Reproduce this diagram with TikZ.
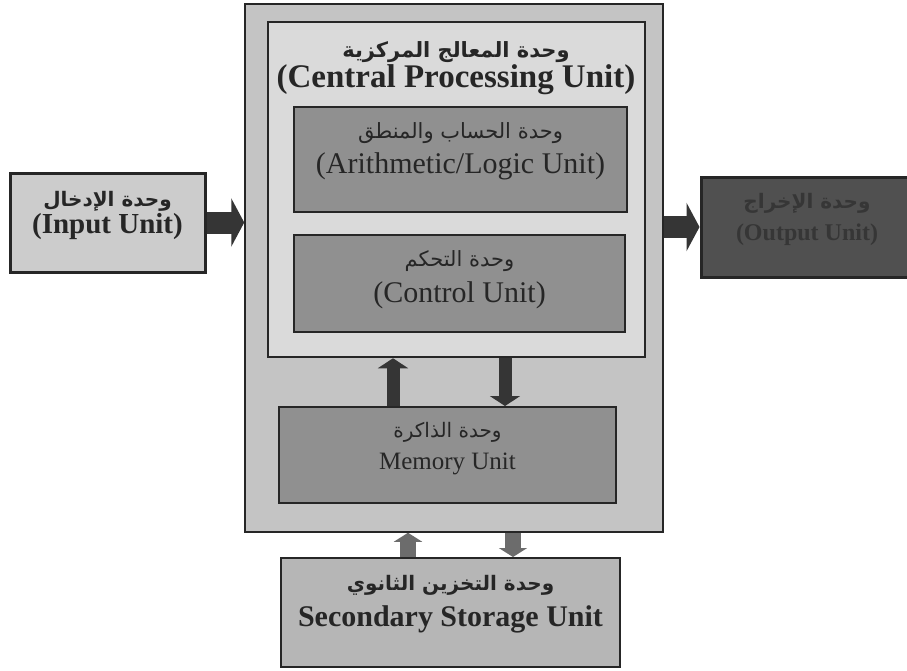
\documentclass[tikz,border=0pt]{standalone}
\usepackage{fontspec}
\setmainfont{Liberation Serif}
\newfontfamily\arabicfont[Script=Arabic]{DejaVu Sans}
\TeXXeTstate=1
\usetikzlibrary{arrows.meta}
\definecolor{ink}{HTML}{262626}
\definecolor{cpuFill}{HTML}{C4C4C4}
\definecolor{areaFill}{HTML}{DADADA}
\definecolor{partFill}{HTML}{909090}
\definecolor{inputFill}{HTML}{CCCCCC}
\definecolor{outputFill}{HTML}{505050}
\definecolor{outputText}{HTML}{363636}
\definecolor{storeFill}{HTML}{B6B6B6}
\definecolor{shaft}{HTML}{353535}
\definecolor{shaftLight}{HTML}{6C6C6C}
\newcommand{\arsize}[1]{\arabicfont\fontsize{#1}{#1}\selectfont}
\tikzset{
  x=1pt, y=-1pt,
  unit/.style={draw=ink, line width=2pt, fill=#1, align=center, inner sep=0pt, text=ink, text depth=21pt},
  flow/.style={line width=22pt, draw=shaft, -{Triangle[length=13pt, width=48pt]}},
  link/.style={line width=13pt, draw=shaft, -{Triangle[length=10pt, width=30pt]}},
  store/.style={line width=16pt, draw=shaftLight, -{Triangle[length=9pt, width=28pt]}},
}

\begin{document}
\begin{tikzpicture}
  \useasboundingbox[fill=white] (0,0) rectangle (907,670);

  % ---------------------------------------------------------------- central unit
  \node[unit=cpuFill, line width=1.5pt, minimum width=418pt, minimum height=528pt] (cpu) at (454, 268) {};
  \node[unit=areaFill, line width=2.5pt, minimum width=377pt, minimum height=335pt] (area) at (456.5, 189.5) {};
  \node[align=center, text=ink, font=\bfseries\fontsize{33}{30}\selectfont] (cpuTitle) at (456, 68)
    {{\arsize{21}\beginR وحدة المعالج المركزية\endR}\\ (Central Processing Unit)};

  \node[unit=partFill, text depth=22pt, minimum width=333pt, minimum height=105pt, font=\fontsize{30}{35}\selectfont] (alu) at (460.5, 159.5)
    {{\arsize{21}\beginR وحدة الحساب والمنطق\endR}\\ (Arithmetic/Logic Unit)};
  \node[unit=partFill, text depth=14pt, minimum width=331pt, minimum height=97pt, font=\fontsize{30}{36}\selectfont] (control) at (459.5, 283.5)
    {{\arsize{21}\beginR وحدة التحكم\endR}\\ (Control Unit)};
  \node[unit=partFill, text depth=18pt, minimum width=337pt, minimum height=96pt, font=\fontsize{25}{32}\selectfont] (memory) at (447.5, 455)
    {{\arsize{20}\beginR وحدة الذاكرة\endR}\\ Memory Unit};

  \coordinate (memUp) at ([xshift=-54.5pt]memory.north);
  \coordinate (memDown) at ([xshift=57.5pt]memory.north);
  \draw[link] (memUp) -- (memUp |- area.south);
  \draw[link] (memDown |- area.south) -- (memDown);

  % ---------------------------------------------------------------- input / output
  \node[unit=inputFill, line width=3pt, minimum width=195pt, minimum height=99pt, font=\bfseries\fontsize{29}{27}\selectfont] (input) at (107.5, 222.5)
    {{\arsize{20}\beginR وحدة الإدخال\endR}\\ (Input Unit)};
  \draw[flow] (input.east) -- (input.east -| cpu.west);

  \node[unit=outputFill, line width=3pt, minimum width=212pt, minimum height=100pt, text=outputText, font=\bfseries\fontsize{24}{32}\selectfont] (output) at (807, 227)
    {{\arsize{20}\beginR وحدة الإخراج\endR}\\ (Output Unit)};
  \draw[flow] (cpu.east |- output.west) -- (output.west);

  % ---------------------------------------------------------------- storage
  \node[unit=storeFill, text depth=24pt, minimum width=339pt, minimum height=109pt, font=\bfseries\fontsize{30}{36}\selectfont] (storage) at (450.5, 612.5)
    {{\arsize{20}\beginR وحدة التخزين الثانوي\endR}\\ Secondary Storage Unit};

  \coordinate (storeUp) at ([xshift=-42.5pt]storage.north);
  \coordinate (storeDown) at ([xshift=62.5pt]storage.north);
  \draw[store] (storeUp) -- (storeUp |- cpu.south);
  \draw[store] (storeDown |- cpu.south) -- (storeDown);

\end{tikzpicture}
\end{document}
